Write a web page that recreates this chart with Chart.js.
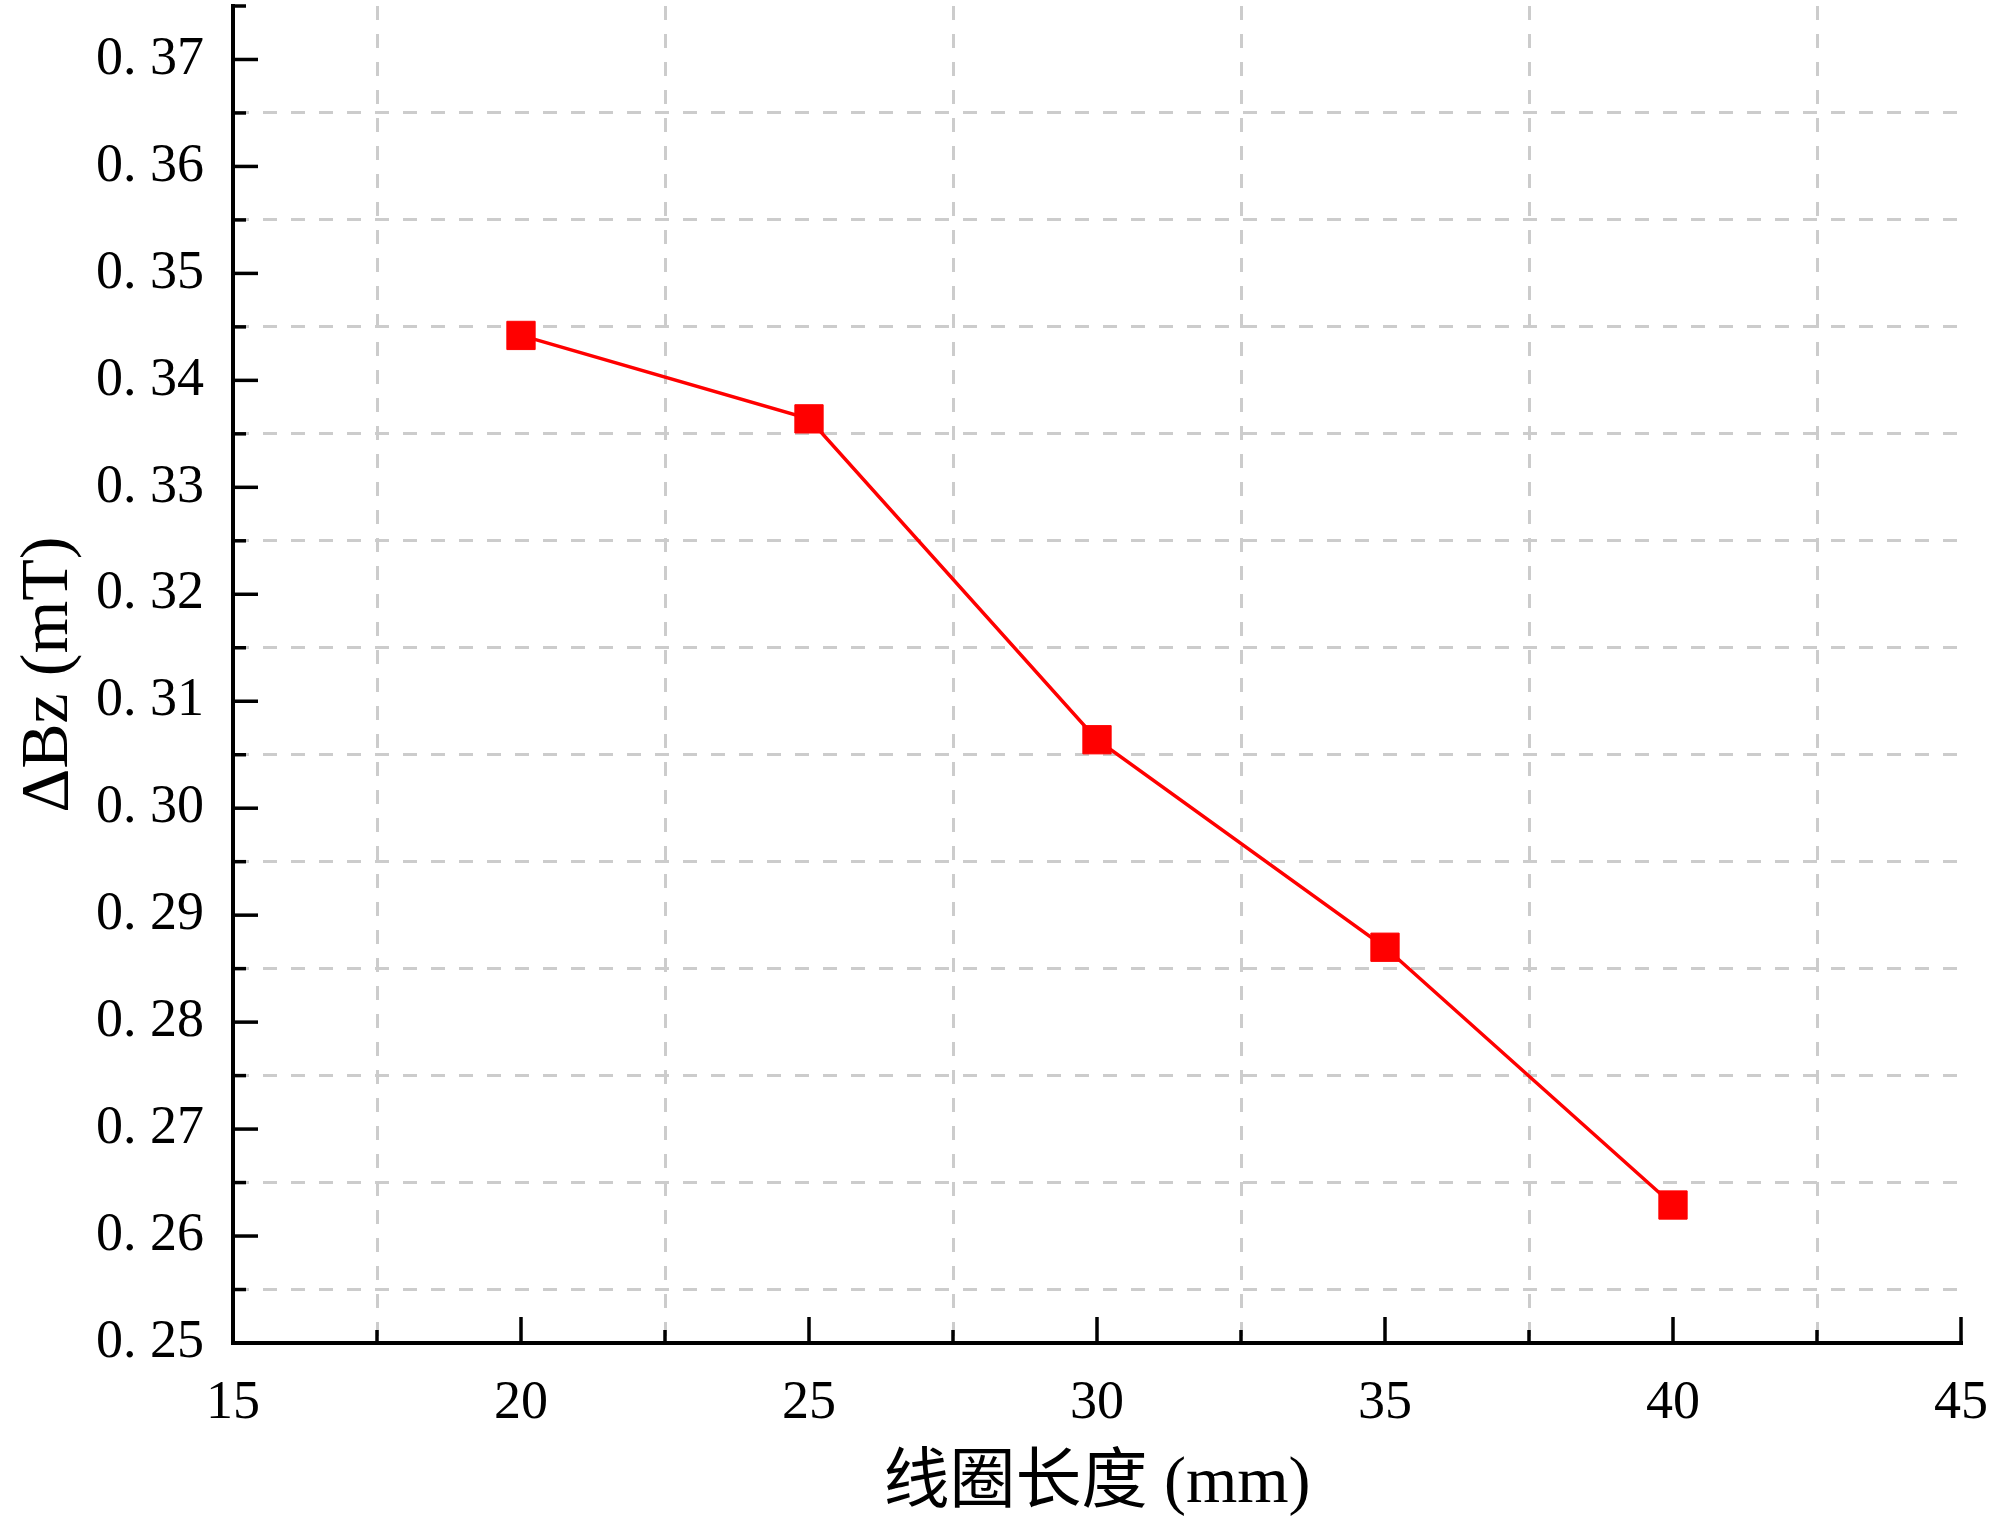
<!DOCTYPE html>
<html>
<head>
<meta charset="utf-8">
<script src="https://cdn.jsdelivr.net/npm/chart.js@4.4.0/dist/chart.umd.min.js"></script>
<style>
  html, body { margin: 0; padding: 0; background: #fff; }
  #wrap { width: 2000px; height: 1528px; position: relative; }
</style>
</head>
<body>
<div id="wrap"><canvas id="bzChart"></canvas></div>
<script>
// data
const coilLength = [20, 25, 30, 35, 40];          // mm
const deltaBz = [0.3442, 0.3364, 0.3064, 0.2870, 0.2629]; // mT

// axis ranges / steps
const xMin = 15, xMax = 45, xStep = 2.5;
const yMin = 0.25, yMax = 0.375, yStep = 0.005;

const xTitle = '线圈长度 (mm)';
const yTitle = 'ΔBz (mT)';

const isMajorX = v => Math.round(v * 10) % 50 === 0;
const isMajorY = v => Math.round(v * 1000) % 10 === 0;

const serif = "'Liberation Serif', 'DejaVu Serif', serif";
const titleFont = "'Liberation Serif', 'Noto Sans CJK SC', serif";

// ticks in this style point into the plot
const inwardTicks = {
    id: 'inwardTicks',
    afterDraw(chart) {
        const { ctx, chartArea } = chart;
        const x = chart.scales.x, y = chart.scales.y;
        ctx.save();
        ctx.strokeStyle = '#000';
        ctx.lineWidth = 3.5;
        x.ticks.forEach(t => {
            const px = x.getPixelForValue(t.value);
            const len = isMajorX(t.value) ? 26 : 13;
            ctx.beginPath();
            ctx.moveTo(px, chartArea.bottom);
            ctx.lineTo(px, chartArea.bottom - len);
            ctx.stroke();
        });
        y.ticks.forEach(t => {
            const py = y.getPixelForValue(t.value);
            const len = isMajorY(t.value) ? 25 : 13;
            ctx.beginPath();
            ctx.moveTo(chartArea.left, py);
            ctx.lineTo(chartArea.left + len, py);
            ctx.stroke();
        });
        ctx.restore();
    }
};

const ctx = document.getElementById('bzChart').getContext('2d');
Chart.defaults.color = '#000';

const chart = new Chart(ctx, {
    type: 'scatter',
    data: {
        datasets: [{
            data: coilLength.map((x, i) => ({ x: x, y: deltaBz[i] })),
            showLine: true,
            borderColor: '#ff0000',
            borderWidth: 3.5,
            backgroundColor: '#ff0000',
            pointStyle: 'rect',
            pointRadius: 20,
            pointBorderWidth: 1,
            pointBorderColor: '#ff0000',
            pointBackgroundColor: '#ff0000'
        }]
    },
    options: {
        responsive: true,
        maintainAspectRatio: false,
        animation: false,
        layout: {
            autoPadding: false,
            padding: { top: 6, right: 39, left: 0, bottom: 0 }
        },
        plugins: {
            legend: { display: false },
            tooltip: { enabled: false }
        },
        scales: {
            x: {
                type: 'linear',
                min: xMin,
                max: xMax,
                afterFit: s => {
                    s.height = 185;
                    s.paddingLeft = 0;
                    s.paddingRight = 0;
                },
                ticks: {
                    stepSize: xStep,
                    autoSkip: false,
                    maxRotation: 0,
                    padding: 28,
                    font: { family: serif, size: 54 },
                    callback: v => isMajorX(v) ? String(v) : ''
                },
                grid: {
                    drawTicks: false,
                    lineWidth: 3,
                    color: c => (c.tick && !isMajorX(c.tick.value)) ? '#cccccc' : 'rgba(0,0,0,0)'
                },
                border: { display: true, color: '#000', width: 4, dash: [14, 14] },
                title: {
                    display: true,
                    text: xTitle,
                    font: { family: titleFont, size: 66 },
                    padding: { top: 0, bottom: 4 }
                }
            },
            y: {
                type: 'linear',
                min: yMin,
                max: yMax,
                afterFit: s => {
                    s.width = 233;
                    s.paddingTop = 0;
                    s.paddingBottom = 0;
                },
                ticks: {
                    stepSize: yStep,
                    autoSkip: false,
                    maxTicksLimit: 100,
                    padding: 29,
                    font: { family: serif, size: 54 },
                    callback: v => isMajorY(v) ? v.toFixed(2).replace('.', '. ') : ''
                },
                grid: {
                    drawTicks: false,
                    lineWidth: 3,
                    color: c => (c.tick && !isMajorY(c.tick.value) && c.tick.value < yMax - 0.001) ? '#cccccc' : 'rgba(0,0,0,0)'
                },
                border: { display: true, color: '#000', width: 4, dash: [14, 14] },
                title: {
                    display: true,
                    text: yTitle,
                    font: { family: titleFont, size: 68 },
                    padding: { top: 8, bottom: 0 }
                }
            }
        }
    },
    plugins: [inwardTicks]
});
</script>
</body>
</html>
